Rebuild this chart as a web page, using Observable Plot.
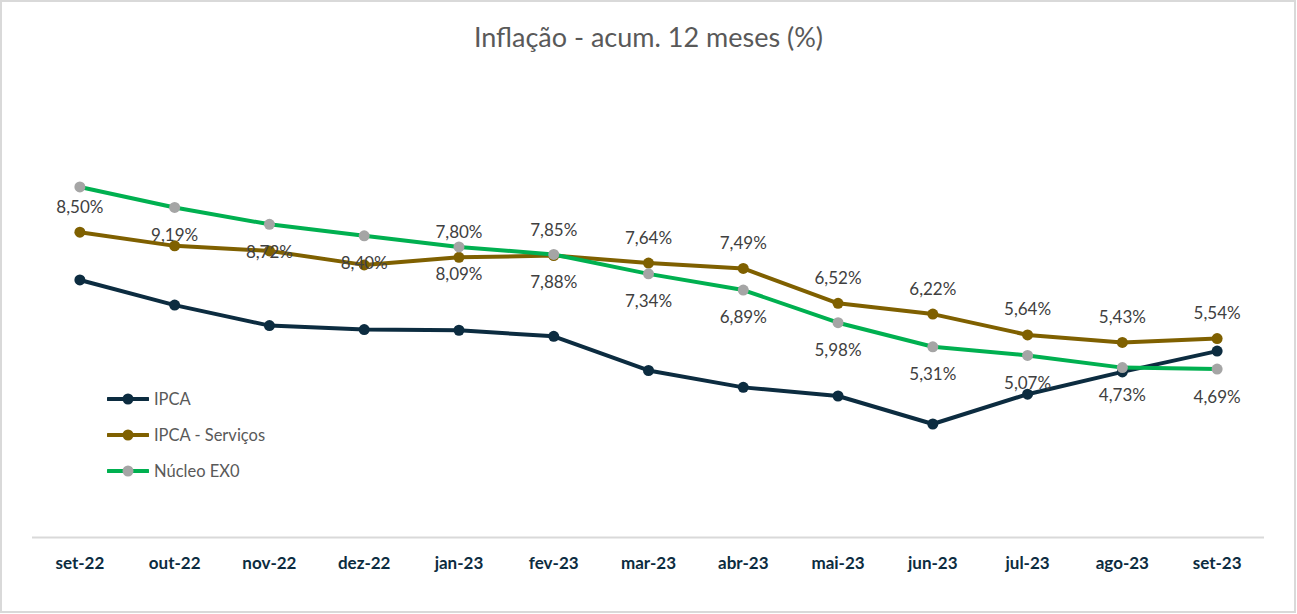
<!DOCTYPE html>
<html><head><meta charset="utf-8">
<script src="https://cdn.jsdelivr.net/npm/d3@7"></script>
<script src="https://cdn.jsdelivr.net/npm/@observablehq/plot@0.6"></script>
<style>
body{margin:0;background:#fff;}
#wrap{position:relative;width:1297px;height:614px;overflow:hidden;font-family:Lato,"Open Sans",sans-serif;background:#fff;}
#border{position:absolute;left:0;top:0;width:1292px;height:609px;border:2px solid #d9d9d9;pointer-events:none;}
#title{position:absolute;left:0;top:0;width:1297px;height:70px;line-height:74px;text-align:center;font-size:27px;color:#595959;}
#chart{position:absolute;left:0;top:70px;}
.lg{position:absolute;left:107px;height:20px;display:flex;align-items:center;font-size:16.5px;color:#595959;}
.lg svg{margin-right:5px;}
</style></head>
<body>
<div id="wrap">
  <div id="title">Inflação - acum. 12 meses (%)</div>
  <div id="chart"></div>
  <div id="legend"></div>
  <div id="border"></div>
</div>
<script>
const months = ["set-22","out-22","nov-22","dez-22","jan-23","fev-23","mar-23","abr-23","mai-23","jun-23","jul-23","ago-23","set-23"];
const ipca = [7.17, 6.47, 5.90, 5.79, 5.77, 5.60, 4.65, 4.18, 3.94, 3.16, 3.99, 4.61, 5.19];
const servicos = [8.50, 8.12, 7.98, 7.59, 7.80, 7.85, 7.64, 7.49, 6.52, 6.22, 5.64, 5.43, 5.54];
const nucleo = [9.76, 9.19, 8.72, 8.40, 8.09, 7.88, 7.34, 6.89, 5.98, 5.31, 5.07, 4.73, 4.69];
const servicosLabels = ["8,50%", null, null, null, "7,80%", "7,85%", "7,64%", "7,49%", "6,52%", "6,22%", "5,64%", "5,43%", "5,54%"];
const nucleoLabels = [null, "9,19%", "8,72%", "8,40%", "8,09%", "7,88%", "7,34%", "6,89%", "5,98%", "5,31%", "5,07%", "4,73%", "4,69%"];
const seriesNames = ["IPCA", "IPCA - Serviços", "Núcleo EX0"];
const lineColors = ["#0c2c40", "#7f6000", "#00b050"];
const dotColors = ["#0c2c40", "#7f6000", "#a5a5a5"];

const seriesValues = [ipca, servicos, nucleo];
const tables = seriesValues.map((vals, s) => months.map((m, i) => ({month: m, value: vals[i], serie: seriesNames[s]})));
const servLbl = months.map((m, i) => ({month: m, value: servicos[i], label: servicosLabels[i]})).filter(d => d.label);
const nucLbl = months.map((m, i) => ({month: m, value: nucleo[i], label: nucleoLabels[i]})).filter(d => d.label);

const marks = [Plot.ruleY([0], {stroke: "#d9d9d9", strokeWidth: 1.8})];
tables.forEach((t, s) => {
  marks.push(Plot.line(t, {x: "month", y: "value", stroke: lineColors[s], strokeWidth: 4}));
  marks.push(Plot.dot(t, {x: "month", y: "value", r: 5.5, fill: dotColors[s], stroke: "none"}));
});
marks.push(Plot.text(servLbl, {x: "month", y: "value", text: "label", dy: -25, fill: "#404040", fontSize: 17}));
marks.push(Plot.text(nucLbl, {x: "month", y: "value", text: "label", dy: 28, fill: "#404040", fontSize: 17}));
marks.push(Plot.axisX({tickSize: 0, tickPadding: 19, fontSize: 17, fontWeight: "bold", color: "#0c2c40", label: null}));

const chart = Plot.plot({
  width: 1297,
  height: 544,
  marginLeft: 32,
  marginRight: 33,
  marginTop: 36,
  marginBottom: 77,
  style: {fontFamily: "Lato, 'Open Sans', sans-serif", background: "transparent"},
  x: {type: "point", domain: months, padding: 0.5, round: false, axis: null},
  y: {domain: [0, 12], axis: null},
  marks
});
document.getElementById("chart").appendChild(chart);

const legend = document.getElementById("legend");
const legendY = [399, 435, 471];
seriesNames.forEach((name, s) => {
  const row = document.createElement("div");
  row.className = "lg";
  row.style.top = (legendY[s] - 10) + "px";
  row.innerHTML = `<svg width="42" height="20"><line x1="1" y1="10" x2="41" y2="10" stroke="${lineColors[s]}" stroke-width="4" stroke-linecap="round"/><circle cx="21" cy="10" r="5.5" fill="${dotColors[s]}"/></svg><span>${name}</span>`;
  legend.appendChild(row);
});
</script>
</body></html>
